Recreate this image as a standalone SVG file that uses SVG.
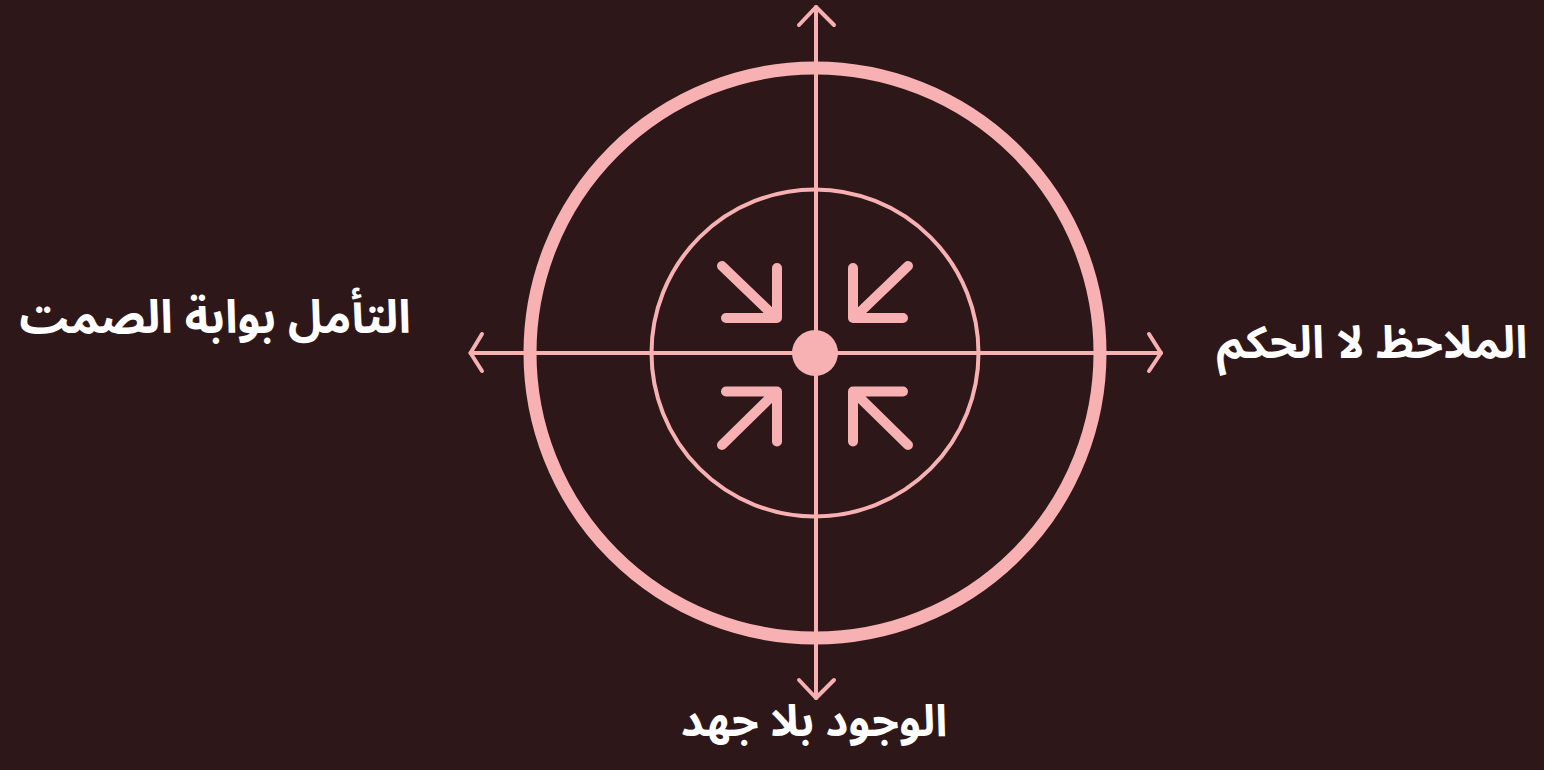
<svg xmlns="http://www.w3.org/2000/svg" width="1544" height="770" viewBox="0 0 1544 770">
<style>
.ln{fill:none;stroke:#f7b1b2;stroke-linecap:round;stroke-linejoin:round}
.ax{stroke-width:4}
.ar{stroke-width:10;stroke-linecap:round}
.lbl{font-family:"Noto Sans Arabic","DejaVu Sans",sans-serif;font-weight:bold;font-size:46px;fill:#ffffff;text-anchor:middle}
</style>
<rect width="1544" height="770" fill="#2e1718"/>
<g id="rings">
<circle cx="815" cy="353" r="285" class="ln" stroke-width="13"/>
<circle cx="815" cy="353" r="163.5" class="ln" stroke-width="4"/>
</g>
<g id="connectors">
<path class="ln ax" d="M470.5,353 H1161"/>
<path class="ln ax" d="M816,7 V698"/>
<path class="ln ax" d="M482,334 L470.5,353 L482,371"/>
<path class="ln ax" d="M1149,334 L1161,353 L1149,371"/>
<path class="ln ax" d="M799,25 L816,7 L834,25"/>
<path class="ln ax" d="M799,680 L816,698 L834,680"/>
</g>
<g id="center">
<circle cx="815" cy="353" r="23" fill="#f7b1b2"/>
<g class="ln ar">
<path d="M726,318 H777 V268 M722,266 L774,316"/>
<path d="M903,318 H853 V268 M908,266 L856,316"/>
<path d="M726,391.5 H777 V441.5 M722,445 L774,394"/>
<path d="M903,391.5 H853 V441.5 M908,445 L856,394"/>
</g>
</g>
<g id="label-left"><text class="lbl" x="215" y="333">التأمل بوابة الصمت</text></g>
<g id="label-right"><text class="lbl" x="1372" y="358" style="font-size:45px">الملاحظ لا الحكم</text></g>
<g id="label-bottom"><text class="lbl" x="814" y="736" style="font-size:44px">الوجود بلا جهد</text></g>
</svg>
